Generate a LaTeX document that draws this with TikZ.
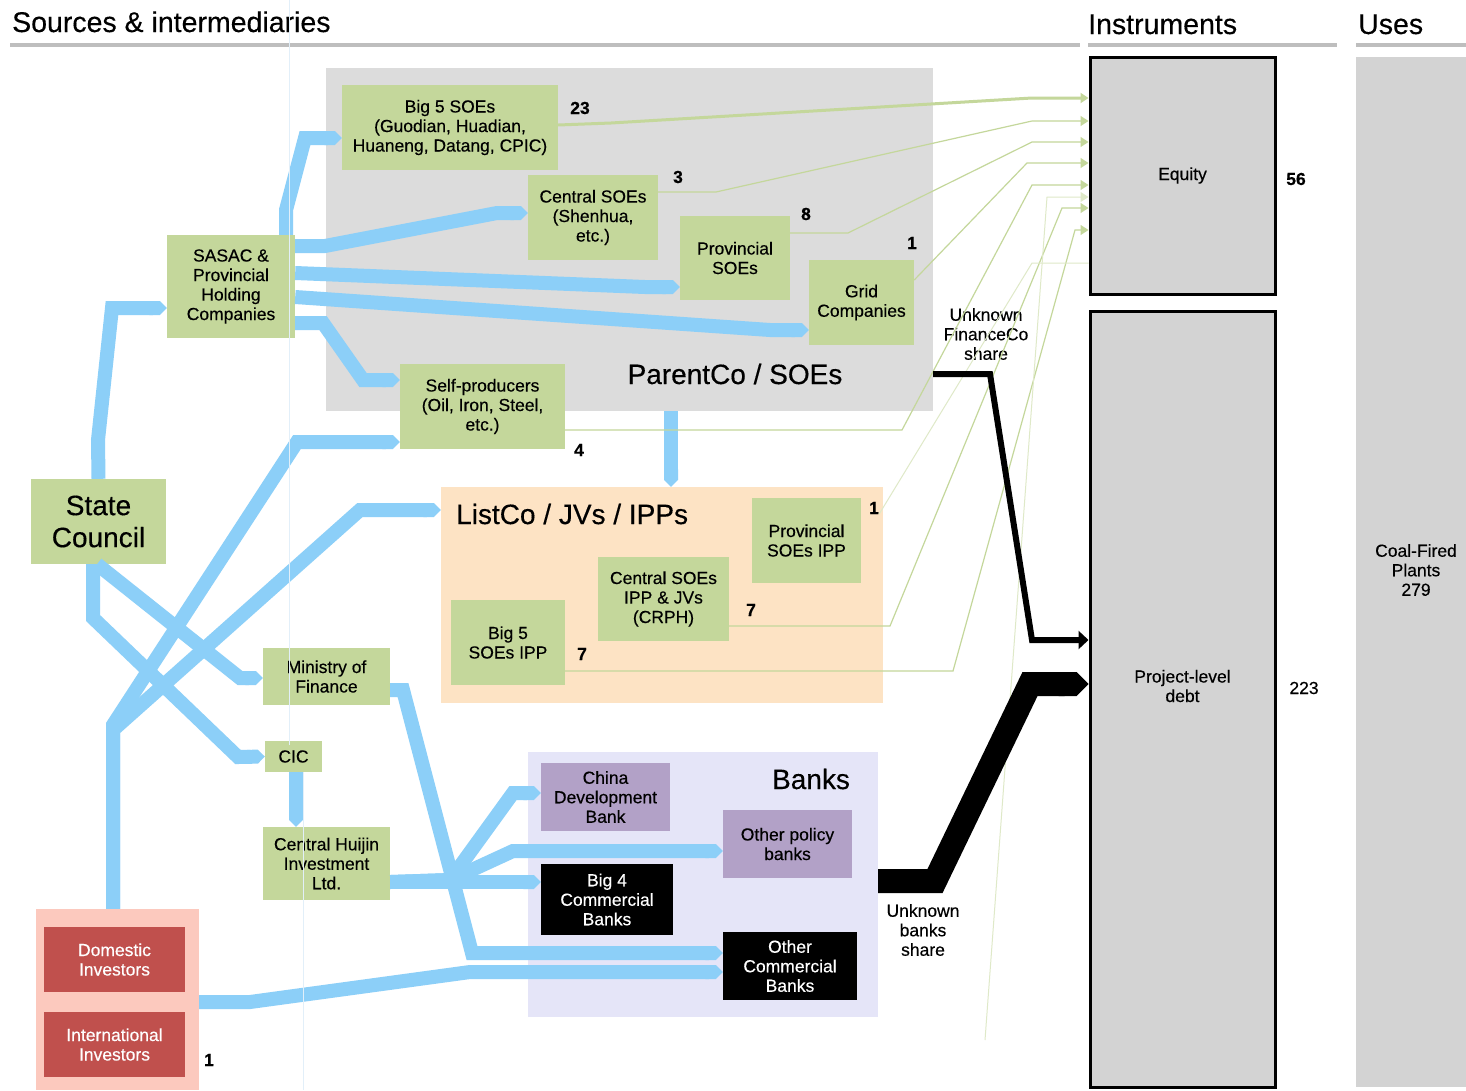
\documentclass[tikz,border=0pt]{standalone}
\usepackage{fontspec}
\setmainfont{Liberation Sans}[FakeBold=0.35]
\usetikzlibrary{arrows.meta}

\definecolor{boxgreen}{HTML}{C4D79B}
\definecolor{flowblue}{HTML}{8CCFF8}
\definecolor{parentgray}{HTML}{DCDCDC}
\definecolor{listpeach}{HTML}{FDE3C4}
\definecolor{banklav}{HTML}{E5E5F8}
\definecolor{invpink}{HTML}{FCC9BE}
\definecolor{invred}{HTML}{C0504D}
\definecolor{bankpurple}{HTML}{B2A1C7}
\definecolor{instgray}{HTML}{D3D3D3}
\definecolor{rulegray}{HTML}{BEBEBE}
\definecolor{guideblue}{HTML}{E2EFF9}

\begin{document}
\begin{tikzpicture}[x=1pt, y=-1pt,
    every node/.style={font=\fontsize{17.5}{19.5}\selectfont, align=center, inner sep=0pt},
    green box/.style={fill=boxgreen},
    red box/.style={fill=invred, text=white},
    policy box/.style={fill=bankpurple},
    black box/.style={fill=black, text=white},
    inst box/.style={fill=instgray, draw=black, line width=3pt},
    big label/.style={font=\fontsize{28}{32}\selectfont},
    header/.style={font=\fontsize{28.5}{32}\selectfont, anchor=base west},
    num/.style={font=\bfseries\fontsize{17.5}{19.5}\selectfont},
    rule/.style={draw=rulegray, line width=4pt},
    flow/.style={draw=flowblue, line width=14pt, -{Triangle Cap[]}},
    eqline/.style={draw=boxgreen, line width=1.2pt, -{Triangle[length=8pt,width=10pt]}},
    faintline/.style={draw=boxgreen!55, line width=1pt},
    finline/.style={draw=black, line width=6pt, -{Triangle[length=10pt,width=18pt]}},
    bankline/.style={draw=black, line width=24pt, -{Triangle Cap[]}}]

  \fill[white] (0,0) rectangle (1466,1090);
  \useasboundingbox (0,0) rectangle (1466,1090);

  % headers
  \node[header] (hsrc) at (12,32) {Sources \& intermediaries};
  \node[header] (hins) at (1088,34) {Instruments};
  \node[header] (huse) at (1358,34) {Uses};
  \draw[rule] (10,45) -- (1080,45);
  \draw[rule] (1088,45) -- (1337,45);
  \draw[rule] (1356,45) -- (1466,45);

  % groups
  \node[fill=parentgray, minimum width=607pt, minimum height=343pt] (parent) at (629.5,239.5) {};
  \node[fill=listpeach, minimum width=442pt, minimum height=216pt] (listco) at (662,595) {};
  \node[fill=banklav, minimum width=350pt, minimum height=265pt] (banks) at (703,884.5) {};
  \node[fill=invpink, minimum width=163pt, minimum height=181pt] (inv) at (117.5,999.5) {};
  \node[big label] (lparent) at (735,374) {ParentCo / SOEs};
  \node[big label, anchor=west] (llistco) at (456,514) {ListCo / JVs / IPPs};
  \node[big label] (lbanks) at (811,779) {Banks};

  % entities
  \node[green box, minimum width=216pt, minimum height=85pt] (big5) at (450,127.5) {Big 5 SOEs\\(Guodian, Huadian,\\Huaneng, Datang, CPIC)};
  \node[green box, minimum width=130pt, minimum height=85pt] (csoe) at (593,217.5) {Central SOEs\\(Shenhua,\\etc.)};
  \node[green box, minimum width=110pt, minimum height=84pt] (psoe) at (735,258) {Provincial\\SOEs};
  \node[green box, minimum width=105pt, minimum height=85pt] (grid) at (861.5,302.5) {Grid\\Companies};
  \node[green box, minimum width=165pt, minimum height=85pt] (self) at (482.5,406.5) {Self-producers\\(Oil, Iron, Steel,\\etc.)};
  \node[green box, minimum width=128pt, minimum height=103pt] (sasac) at (231,286.5) {SASAC \&\\Provincial\\Holding\\Companies};
  \node[green box, big label, minimum width=135pt, minimum height=85pt] (state) at (98.5,521.5) {State\\Council};
  \node[green box, minimum width=127pt, minimum height=57pt] (mof) at (326.5,676.5) {Ministry of\\Finance};
  \node[green box, minimum width=57pt, minimum height=31pt] (cic) at (293.5,756.5) {CIC};
  \node[green box, minimum width=127pt, minimum height=73pt] (huijin) at (326.5,863.5) {Central Huijin\\Investment\\Ltd.};
  \node[green box, minimum width=109pt, minimum height=85pt] (pipp) at (806.5,540.5) {Provincial\\SOEs IPP};
  \node[green box, minimum width=131pt, minimum height=84pt] (cipp) at (663.5,599) {Central SOEs\\IPP \& JVs\\(CRPH)};
  \node[green box, minimum width=114pt, minimum height=85pt] (bipp) at (508,642.5) {Big 5\\SOEs IPP};
  \node[policy box, minimum width=129pt, minimum height=68pt] (cdb) at (605.5,797) {China\\Development\\Bank};
  \node[policy box, minimum width=129pt, minimum height=68pt] (opb) at (787.5,844) {Other policy\\banks};
  \node[black box, minimum width=132pt, minimum height=71pt] (big4) at (607,899.5) {Big 4\\Commercial\\Banks};
  \node[black box, minimum width=134pt, minimum height=68pt] (ocb) at (790,966) {Other\\Commercial\\Banks};
  \node[red box, minimum width=141pt, minimum height=65pt] (dom) at (114.5,959.5) {Domestic\\Investors};
  \node[red box, minimum width=141pt, minimum height=65pt] (intl) at (114.5,1044.5) {International\\Investors};

  % instruments and uses
  \node[inst box, minimum width=185pt, minimum height=237pt] (equity) at (1182.5,175.5) {Equity};
  \node[inst box, minimum width=185pt, minimum height=776pt,
    label={[yshift=13pt]center:Project-level\\debt}] (debt) at (1182.5,699) {};
  \node[fill=instgray, minimum width=110pt, minimum height=1030pt] (coal) at (1411,572) {};
  \node (lcoal) at (1416,570) {Coal-Fired\\Plants\\279};

  % values
  \node[num] (n23) at (580,108) {23};
  \node[num] (n3) at (678,177) {3};
  \node[num] (n8) at (806,214) {8};
  \node[num] (ng1) at (912,243) {1};
  \node[num] (n4) at (579,450) {4};
  \node[num] (np1) at (874,508) {1};
  \node[num] (nc7) at (751,610) {7};
  \node[num] (nb7) at (582,654) {7};
  \node[num] (ni1) at (209,1060) {1};
  \node[num] (n56) at (1296,179) {56};
  \node (n223) at (1304,688) {223};
  \node (ufin) at (986,334) {Unknown\\FinanceCo\\share};
  \node (ubank) at (923,930) {Unknown\\banks\\share};

  % ownership and funding flows
  \draw[flow] (state.north) -- (98,440) -- (112,308) -- (sasac.west |- 0,308);
  \draw[flow] (sasac.north -| 286,0) -- (286,210) -- (305,138) -- (big5.west |- 0,138);
  \draw[flow] (sasac.east |- 0,246) -- (325,246) -- (497,213) -- (csoe.west |- 0,213);
  \draw[flow] (sasac.east |- 0,273) -- (645,287) -- (psoe.west |- 0,287);
  \draw[flow] (sasac.east |- 0,297) -- (770,330) -- (grid.west |- 0,330);
  \draw[flow] (sasac.east |- 0,323) -- (323,323) -- (363,380) -- (self.west |- 0,380);
  \draw[flow] (inv.north -| 113,0) -- (113,725) -- (297,442) -- (self.west |- 0,442);
  \draw[flow] (inv.north -| 113,0) -- (113,730) -- (360,510) -- (listco.west |- 0,510);
  \draw[flow] (state.south -| 97,0) -- (240,678) -- (mof.west |- 0,678);
  \draw[flow] (state.south -| 93,0) -- (93,618) -- (238,757) -- (cic.west);
  \draw[flow] (cic.south -| 296,0) -- (huijin.north -| 296,0);
  \draw[flow] (mof.east |- 0,690) -- (403,690) -- (472,953) -- (ocb.west |- 0,953);
  \draw[flow] (huijin.east |- 0,882) -- (big4.west |- 0,882);
  \draw[flow] (huijin.east |- 0,882) -- (450,880) -- (513,851) -- (opb.west |- 0,851);
  \draw[flow] (huijin.east |- 0,882) -- (450,880) -- (513,793) -- (cdb.west |- 0,793);
  \draw[flow] (inv.east |- 0,1002) -- (250,1002) -- (470,972) -- (ocb.west |- 0,972);
  \draw[flow] (parent.south -| 671,0) -- (listco.north -| 671,0);

  % equity lines
  \draw[eqline, line width=3pt] (big5.east |- 0,125) -- (611,123) -- (1032,98) -- (equity.west |- 0,98);
  \draw[eqline] (csoe.east |- 0,192) -- (716,192) -- (1032,121) -- (equity.west |- 0,121);
  \draw[eqline] (psoe.east |- 0,233) -- (848,233) -- (1032,142) -- (equity.west |- 0,142);
  \draw[eqline] (grid.east |- 0,280) -- (1027,163) -- (equity.west |- 0,163);
  \draw[eqline] (self.east |- 0,430) -- (902,430) -- (1032,185) -- (equity.west |- 0,185);
  \draw[eqline] (cipp.east |- 0,626) -- (890,626) -- (1062,208) -- (equity.west |- 0,208);
  \draw[eqline] (bipp.east |- 0,671) -- (953,671) -- (1075,230) -- (equity.west |- 0,230);
  \draw[faintline] (np1.south east) -- (1032,263) -- (equity.west |- 0,263);
  \draw[faintline, -{Triangle[length=8pt,width=10pt]}] (985,1040) -- (1047,197) -- (equity.west |- 0,197);

  % debt lines
  \draw[finline] (parent.east |- 0,374) -- (990,374) -- (1032,640) -- (debt.west |- 0,640);
  \draw[bankline] (banks.east |- 0,881) -- (935,881) -- (1030,684) -- (debt.west |- 0,684);

  % guide
  \draw[guideblue, line width=1pt] (289,0) -- (289,745);
  \draw[guideblue, line width=1pt] (303,772) -- (303,1090);
\end{tikzpicture}
\end{document}
